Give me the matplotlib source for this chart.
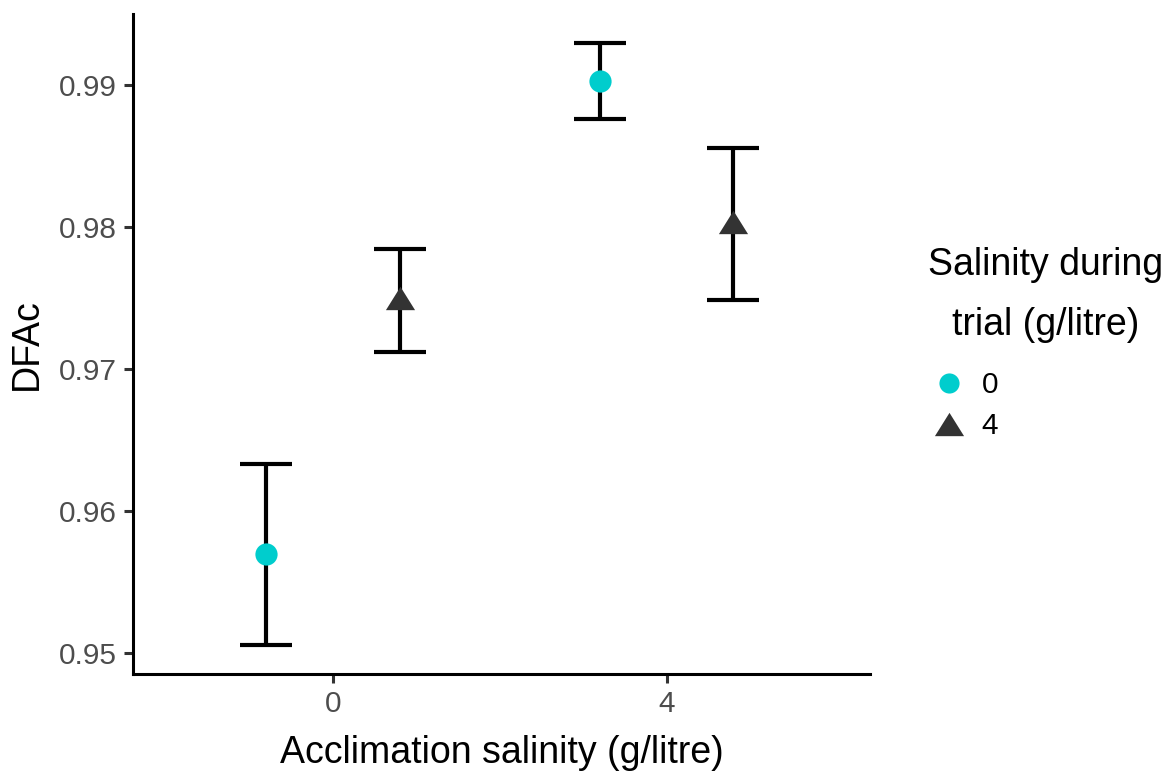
import matplotlib
matplotlib.use("Agg")
import matplotlib.pyplot as plt
from matplotlib.lines import Line2D

plt.rcParams['font.family'] = ['Liberation Sans', 'DejaVu Sans']

# acclimation salinity categories (discrete x)
acclim = ["0", "4"]
# salinity during trial groups
trial = ["0", "4"]

# mean DFAc per trial group, one value per acclimation category
mean_t0 = [0.9570, 0.99028]
lo_t0 = [0.95056, 0.98761]
hi_t0 = [0.96330, 0.99296]

mean_t4 = [0.9750, 0.98035]
lo_t4 = [0.97120, 0.97486]
hi_t4 = [0.97845, 0.98556]

col_t0 = "#00CDCD"
col_t4 = "#333333"
tri = [(0, 0.8), (-1, -0.8), (1, -0.8)]

fig = plt.figure(figsize=(11.76, 7.78), dpi=100)
ax = fig.add_axes([133 / 1176, 1 - 674 / 778, (870 - 133) / 1176, (674 - 14) / 778])

xpos = list(range(len(acclim)))
dodge = 0.2

groups = [
    (mean_t0, lo_t0, hi_t0, -dodge, "o", col_t0, 16),
    (mean_t4, lo_t4, hi_t4, dodge, tri, col_t4, 21),
]
for m, lo, hi, off, mk, c, ms in groups:
    xs = [x + off for x in xpos]
    err = [[a - b for a, b in zip(m, lo)], [b - a for a, b in zip(m, hi)]]
    ax.errorbar(xs, m, yerr=err, fmt="none", ecolor="black", elinewidth=3.0,
                capsize=18.5, capthick=3.0, zorder=2)
    ax.plot(xs, m, linestyle="none", marker=mk, color=c, markersize=ms,
            markeredgewidth=0, zorder=3)

ax.set_xlim(-0.6, 1.61)
ax.set_ylim(0.94852, 0.995)
ax.set_xticks(xpos)
ax.set_xticklabels(acclim)
ax.set_yticks([0.95, 0.96, 0.97, 0.98, 0.99])
ax.set_yticklabels(["0.95", "0.96", "0.97", "0.98", "0.99"])

for s in ["top", "right"]:
    ax.spines[s].set_visible(False)
for s in ["left", "bottom"]:
    ax.spines[s].set_linewidth(2.2)
    ax.spines[s].set_color("black")
ax.tick_params(length=6.5, width=2.2, color="#333333", labelsize=21.5,
               labelcolor="#4D4D4D", pad=5)

ax.set_xlabel("Acclimation salinity (g/litre)", fontsize=27, labelpad=12)
ax.set_ylabel("DFAc", fontsize=27, labelpad=10)

# legend
fig.text(1046 / 1176, 1 - 265 / 778, "Salinity during", fontsize=27,
         ha="center", va="center")
fig.text(1046 / 1176, 1 - 325 / 778, "trial (g/litre)", fontsize=27,
         ha="center", va="center")
handles = [
    Line2D([], [], linestyle="none", marker="o", color=col_t0, markersize=14.5,
           markeredgewidth=0),
    Line2D([], [], linestyle="none", marker=tri, color=col_t4, markersize=21,
           markeredgewidth=0),
]
fig.legend(handles, trial, loc="upper left",
           bbox_to_anchor=(934 / 1176, 1 - 371 / 778), frameon=False,
           fontsize=21.5, handlelength=1.0, handletextpad=0.6,
           labelspacing=0.45, borderaxespad=0, borderpad=0)

fig.savefig("out.png", dpi=100)
